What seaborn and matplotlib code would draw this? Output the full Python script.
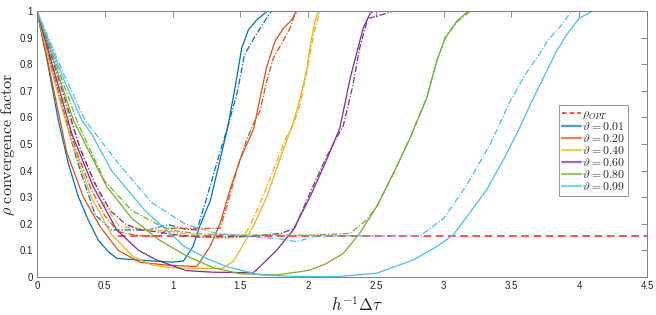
import numpy as np
import pandas as pd
import seaborn as sns
import matplotlib
matplotlib.use('Agg')
import matplotlib.pyplot as plt
from matplotlib.lines import Line2D
from matplotlib.ticker import FixedLocator, FuncFormatter

# ---- data ----
thetas = ['0.01', '0.20', '0.40', '0.60', '0.80', '0.99']
rho_opt = 0.155
x_range = [0.6, 4.5]

# theta = 0.01
x_s01 = [0, 0.08, 0.157, 0.231, 0.305, 0.378, 0.452, 0.526, 0.59, 0.8, 1.0, 1.08, 1.15, 1.2, 1.28, 1.35, 1.41, 1.46, 1.51, 1.56, 1.62, 1.70, 4.5]
y_s01 = [1, 0.8, 0.59, 0.427, 0.302, 0.214, 0.139, 0.095, 0.070, 0.062, 0.056, 0.06, 0.114, 0.19, 0.29, 0.44, 0.57, 0.71, 0.86, 0.93, 0.966, 1.0, 1.0]
x_d01 = [0, 0.1, 0.2, 0.3, 0.43, 0.55, 0.70, 0.82, 0.97, 1.09, 1.18, 1.24, 1.325, 1.41, 1.48, 1.53, 1.6, 1.66, 1.71, 1.73, 4.5]
y_d01 = [1, 0.8, 0.61, 0.43, 0.233, 0.177, 0.177, 0.177, 0.197, 0.18, 0.177, 0.277, 0.427, 0.57, 0.70, 0.835, 0.897, 0.947, 0.985, 1.0, 1.0]

# theta = 0.20
x_s20 = [0, 0.1, 0.219, 0.342, 0.465, 0.60, 0.76, 0.956, 1.178, 1.276, 1.35, 1.423, 1.497, 1.6, 1.645, 1.694, 1.755, 1.817, 1.878, 1.915, 4.5]
y_s20 = [1, 0.76, 0.47, 0.30, 0.19, 0.10, 0.055, 0.045, 0.039, 0.114, 0.20, 0.327, 0.44, 0.56, 0.672, 0.79, 0.885, 0.935, 0.966, 1.0, 1.0]
x_d20 = [0, 0.1, 0.2, 0.3, 0.4, 0.5, 0.6, 0.72, 0.82, 0.9, 0.97, 1.1, 1.35, 1.40, 1.473, 1.546, 1.6, 1.645, 1.694, 1.743, 1.805, 1.866, 1.90, 1.92, 4.5]
y_d20 = [1, 0.8, 0.62, 0.46, 0.33, 0.23, 0.17, 0.158, 0.152, 0.155, 0.183, 0.183, 0.183, 0.264, 0.40, 0.515, 0.58, 0.625, 0.734, 0.822, 0.878, 0.935, 0.985, 1.0, 1.0]

# theta = 0.40
x_s40 = [0, 0.1, 0.238, 0.4, 0.55, 0.71, 0.85, 1.0, 1.2, 1.37, 1.45, 1.497, 1.595, 1.694, 1.79, 1.89, 1.94, 1.99, 2.02, 2.05, 2.075, 4.5]
y_s40 = [1, 0.79, 0.54, 0.30, 0.16, 0.076, 0.045, 0.035, 0.032, 0.033, 0.06, 0.10, 0.19, 0.30, 0.44, 0.58, 0.67, 0.78, 0.885, 0.96, 1.0, 1.0]
x_d40 = [0, 0.1, 0.2, 0.3, 0.4, 0.5, 0.61, 0.8, 1.0, 1.2, 1.35, 1.52, 1.57, 1.645, 1.743, 1.84, 1.89, 1.94, 1.99, 2.04, 2.087, 4.5]
y_d40 = [1, 0.82, 0.66, 0.51, 0.38, 0.27, 0.19, 0.18, 0.17, 0.155, 0.145, 0.152, 0.19, 0.277, 0.40, 0.527, 0.57, 0.647, 0.77, 0.91, 1.0, 1.0]

# theta = 0.60
x_s60 = [0, 0.1, 0.256, 0.415, 0.588, 0.75, 0.883, 1.1, 1.3, 1.595, 1.645, 1.767, 1.89, 2.013, 2.136, 2.234, 2.31, 2.406, 2.456, 2.48, 4.5]
y_s60 = [1, 0.82, 0.54, 0.34, 0.177, 0.10, 0.064, 0.024, 0.018, 0.016, 0.039, 0.10, 0.177, 0.30, 0.44, 0.56, 0.747, 0.935, 0.99, 1.0, 1.0]
x_d60 = [0, 0.1, 0.2, 0.32, 0.43, 0.54, 0.65, 0.76, 0.883, 1.0, 1.2, 1.57, 1.80, 1.90, 2.013, 2.136, 2.26, 2.33, 2.38, 2.44, 2.505, 2.63, 4.5]
y_d60 = [1, 0.84, 0.68, 0.48, 0.35, 0.25, 0.20, 0.177, 0.17, 0.16, 0.15, 0.152, 0.164, 0.183, 0.315, 0.452, 0.57, 0.72, 0.86, 0.972, 0.98, 1.0, 1.0]

# theta = 0.80
x_s80 = [0, 0.1, 0.268, 0.514, 0.7, 0.9, 1.1, 1.3, 1.5, 1.77, 1.94, 2.013, 2.136, 2.26, 2.38, 2.505, 2.63, 2.75, 2.874, 2.948, 3.01, 3.095, 3.18, 4.5]
y_s80 = [1, 0.85, 0.59, 0.34, 0.22, 0.14, 0.08, 0.035, 0.012, 0.008, 0.02, 0.026, 0.051, 0.089, 0.164, 0.264, 0.39, 0.52, 0.672, 0.81, 0.897, 0.96, 1.0, 1.0]
x_d80 = [0, 0.1, 0.3, 0.5, 0.7, 0.9, 1.0, 1.2, 1.5, 2.0, 2.31, 2.43, 2.505, 2.63, 2.75, 2.874, 2.948, 3.01, 3.1, 3.2, 4.5]
y_d80 = [1, 0.86, 0.58, 0.36, 0.25, 0.195, 0.175, 0.162, 0.158, 0.157, 0.164, 0.214, 0.264, 0.39, 0.52, 0.672, 0.81, 0.9, 0.96, 1.0, 1.0]

# theta = 0.99
x_s99 = [0, 0.1, 0.2, 0.33, 0.40, 0.55, 0.796, 1.09, 1.25, 1.40, 1.645, 1.9, 2.2, 2.505, 2.775, 2.948, 3.07, 3.19, 3.316, 3.44, 3.55, 3.65, 3.734, 3.83, 3.906, 4.0, 4.1, 4.5]
y_s99 = [1, 0.87, 0.74, 0.59, 0.54, 0.40, 0.25, 0.114, 0.07, 0.039, 0.008, 0.002, 0.001, 0.014, 0.064, 0.114, 0.158, 0.24, 0.327, 0.44, 0.55, 0.66, 0.747, 0.847, 0.91, 0.973, 1.0, 1.0]
x_d99 = [0, 0.1, 0.2, 0.354, 0.6, 0.846, 1.09, 1.325, 1.57, 1.77, 1.915, 2.04, 2.2, 2.5, 2.83, 3.0, 3.17, 3.34, 3.49, 3.6, 3.685, 3.77, 3.857, 3.93, 3.95, 4.5]
y_d99 = [1, 0.88, 0.76, 0.59, 0.427, 0.28, 0.20, 0.164, 0.152, 0.145, 0.133, 0.152, 0.155, 0.155, 0.156, 0.22, 0.346, 0.496, 0.66, 0.76, 0.822, 0.89, 0.94, 0.99, 1.0, 1.0]

solid_x = [x_s01, x_s20, x_s40, x_s60, x_s80, x_s99]
solid_y = [y_s01, y_s20, y_s40, y_s60, y_s80, y_s99]
dash_x = [x_d01, x_d20, x_d40, x_d60, x_d80, x_d99]
dash_y = [y_d01, y_d20, y_d40, y_d60, y_d80, y_d99]

colors = ['#0072BD', '#D95319', '#EDB120', '#7E2F8E', '#77AC30', '#4DBEEE']

# ---- style ----
sns.set_style('white')
plt.rcParams['font.family'] = ['Liberation Sans', 'DejaVu Sans']
plt.rcParams['mathtext.fontset'] = 'cm'

fig = plt.figure(figsize=(6.56, 3.15), dpi=100)
ax = fig.add_axes([0.0564, 0.1206, 0.9299, 0.8444])

sns.lineplot(x=x_range, y=[rho_opt, rho_opt], color='#FF2020', lw=1.1,
             linestyle=(0, (5, 3)), ax=ax, zorder=1)

for i in range(len(thetas)):
    sns.lineplot(x=solid_x[i], y=solid_y[i], color=colors[i], lw=0.9,
                 sort=False, estimator=None, ax=ax, zorder=2)
    sns.lineplot(x=dash_x[i], y=dash_y[i], color=colors[i], lw=0.9,
                 linestyle=(0, (5, 1.5, 1, 1.5)), sort=False, estimator=None,
                 ax=ax, zorder=2)

ax.set_xlim(0, 4.5)
ax.set_ylim(0, 1)
ax.xaxis.set_major_locator(FixedLocator(np.arange(0, 4.51, 0.5)))
ax.yaxis.set_major_locator(FixedLocator(np.arange(0, 1.01, 0.1)))
fmt = FuncFormatter(lambda v, p: '%g' % round(v, 2))
ax.xaxis.set_major_formatter(fmt)
ax.yaxis.set_major_formatter(fmt)
ax.tick_params(direction='in', length=4, width=0.6, colors='#777777',
               labelcolor='#262626', labelsize=7, top=True, right=True, pad=3)
for sp in ax.spines.values():
    sp.set_color('#808080')
    sp.set_linewidth(0.7)

ax.set_xlabel(r'$h^{-1}\Delta\tau$', fontsize=12, labelpad=1)
ax.xaxis.set_label_coords(0.525, -0.07)
ax.set_ylabel(r'$\rho\ \mathrm{convergence\ factor}$', fontsize=11.5, labelpad=2)

handles = [Line2D([0], [0], color='#FF2020', lw=1.1, linestyle=(0, (3, 2)))]
labels = [r'$\rho_{OPT}$']
for i, t in enumerate(thetas):
    handles.append(Line2D([0], [0], color=colors[i], lw=1.6, alpha=0.7))
    labels.append(r'$\vartheta = %s$' % t)
leg = ax.legend(handles, labels, loc='upper right', bbox_to_anchor=(0.969, 0.647),
                fontsize=8.5, frameon=True, fancybox=False, edgecolor='#808080',
                handlelength=1.6, handletextpad=0.1, labelspacing=0.0,
                borderpad=0.25, borderaxespad=0)
leg.get_frame().set_linewidth(0.7)

plt.savefig('out.png', dpi=100)
plt.close()
